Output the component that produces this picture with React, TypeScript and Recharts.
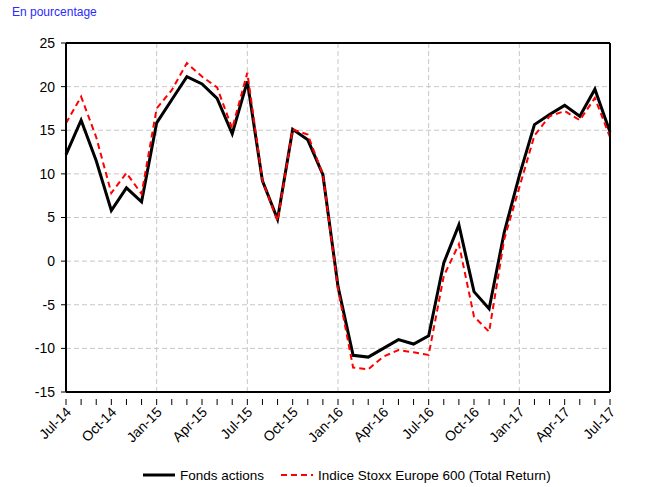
import React from "react";
import { LineChart, Line, XAxis, YAxis, CartesianGrid, ReferenceLine } from "recharts";

const months = [
  "Jul-14", "Aug-14", "Sep-14", "Oct-14", "Nov-14", "Dec-14",
  "Jan-15", "Feb-15", "Mar-15", "Apr-15", "May-15", "Jun-15",
  "Jul-15", "Aug-15", "Sep-15", "Oct-15", "Nov-15", "Dec-15",
  "Jan-16", "Feb-16", "Mar-16", "Apr-16", "May-16", "Jun-16",
  "Jul-16", "Aug-16", "Sep-16", "Oct-16", "Nov-16", "Dec-16",
  "Jan-17", "Feb-17", "Mar-17", "Apr-17", "May-17", "Jun-17", "Jul-17",
];

const fonds = [
  12.2, 16.15, 11.5, 5.8, 8.4, 6.8,
  15.85, 18.5, 21.15, 20.3, 18.65, 14.6,
  20.6, 9.2, 4.8, 15.1, 13.9, 9.9,
  -2.9, -10.8, -11.0, -10.0, -9.0, -9.5,
  -8.55, -0.2, 4.15, -3.5, -5.45, 3.3,
  9.8, 15.65, 16.8, 17.85, 16.6, 19.7, 14.8,
];

const stoxx = [
  15.8, 18.85, 14.2, 7.8, 10.1, 7.7,
  17.5, 19.6, 22.7, 21.15, 19.9, 15.2,
  21.6, 9.2, 4.6, 15.1, 14.5, 9.9,
  -3.2, -12.2, -12.4, -10.95, -10.2, -10.45,
  -10.75, -1.7, 1.95, -6.35, -8.1, 2.5,
  8.45, 14.4, 16.6, 17.2, 16.15, 18.7, 14.2,
];

const xTickLabels = [
  "Jul-14", "Oct-14", "Jan-15", "Apr-15", "Jul-15", "Oct-15", "Jan-16",
  "Apr-16", "Jul-16", "Oct-16", "Jan-17", "Apr-17", "Jul-17",
];

const gridMonths = ["Jan-15", "Jul-15", "Jan-16", "Jul-16", "Jan-17"];

const yTicks = [-15, -10, -5, 0, 5, 10, 15, 20, 25];

const data = months.map((m, i) => ({ month: m, fonds: fonds[i], stoxx: stoxx[i] }));

const FONT = "'Liberation Sans', Arial, sans-serif";

const XTick = (props: any) => {
  const { x, y, payload } = props;
  const label = payload.value as string;
  const show = xTickLabels.includes(label);
  return (
    <g>
      <line x1={x} y1={y - 1} x2={x} y2={y + 5} stroke="#000" strokeWidth={1} />
      {show && (
        <text
          x={x + 6}
          y={y + 13}
          textAnchor="end"
          fontSize={14}
          fontFamily={FONT}
          fill="#000"
          transform={`rotate(-45, ${x + 6}, ${y + 13})`}
        >
          {label}
        </text>
      )}
    </g>
  );
};

export default function App() {
  return (
    <div style={{ position: "absolute", left: 0, top: 0, width: 660, height: 487, background: "#fff", fontFamily: FONT }}>
      <div style={{ position: "absolute", left: 12, top: 5, fontSize: 12, color: "#2a2aff", fontFamily: FONT }}>
        En pourcentage
      </div>
      <LineChart width={660} height={487} data={data} margin={{ top: 43, right: 0, left: 0, bottom: 0 }}>
        <CartesianGrid vertical={false} stroke="#c8c8c8" strokeDasharray="5 3" yAxisId="l" />
        {gridMonths.map((m) => (
          <ReferenceLine key={m} x={m} yAxisId="l" stroke="#c8c8c8" strokeDasharray="5 3" />
        ))}
        <XAxis
          dataKey="month"
          interval={0}
          height={95}
          tick={<XTick />}
          tickLine={false}
          axisLine={{ stroke: "#000", strokeWidth: 2 }}
        />
        <YAxis
          yAxisId="l"
          domain={[-15, 25]}
          ticks={yTicks}
          width={66}
          tickSize={5}
          tickMargin={6}
          interval={0}
          tick={{ fontSize: 14, fill: "#000", fontFamily: FONT }}
          tickLine={{ stroke: "#000" }}
          axisLine={{ stroke: "#000", strokeWidth: 2 }}
        />
        <YAxis
          yAxisId="r"
          orientation="right"
          domain={[-15, 25]}
          ticks={yTicks}
          width={50}
          tickSize={5}
          tickMargin={7}
          interval={0}
          tick={{ fontSize: 14, fill: "#000", fontFamily: FONT, textAnchor: "start" }}
          tickLine={{ stroke: "#000" }}
          axisLine={{ stroke: "#000", strokeWidth: 2 }}
        />
        <ReferenceLine y={25} yAxisId="l" stroke="#000" strokeWidth={2} />
        <Line
          yAxisId="l"
          type="linear"
          dataKey="fonds"
          stroke="#000"
          strokeWidth={3}
          dot={false}
          isAnimationActive={false}
        />
        <Line
          yAxisId="l"
          type="linear"
          dataKey="stoxx"
          stroke="#ff0000"
          strokeWidth={2}
          strokeDasharray="6 4"
          dot={false}
          isAnimationActive={false}
        />
      </LineChart>
      <svg style={{ position: "absolute", left: 0, top: 462 }} width={660} height={25}>
        <line x1={143} y1={13} x2={175} y2={13} stroke="#000" strokeWidth={3} />
        <text x={180} y={18} fontSize={13.5} fontFamily={FONT} fill="#000">Fonds actions</text>
        <line x1={281} y1={13} x2={313} y2={13} stroke="#ff0000" strokeWidth={2} strokeDasharray="6 4" />
        <text x={318} y={18} fontSize={13.5} fontFamily={FONT} fill="#000">Indice Stoxx Europe 600 (Total Return)</text>
      </svg>
    </div>
  );
}
